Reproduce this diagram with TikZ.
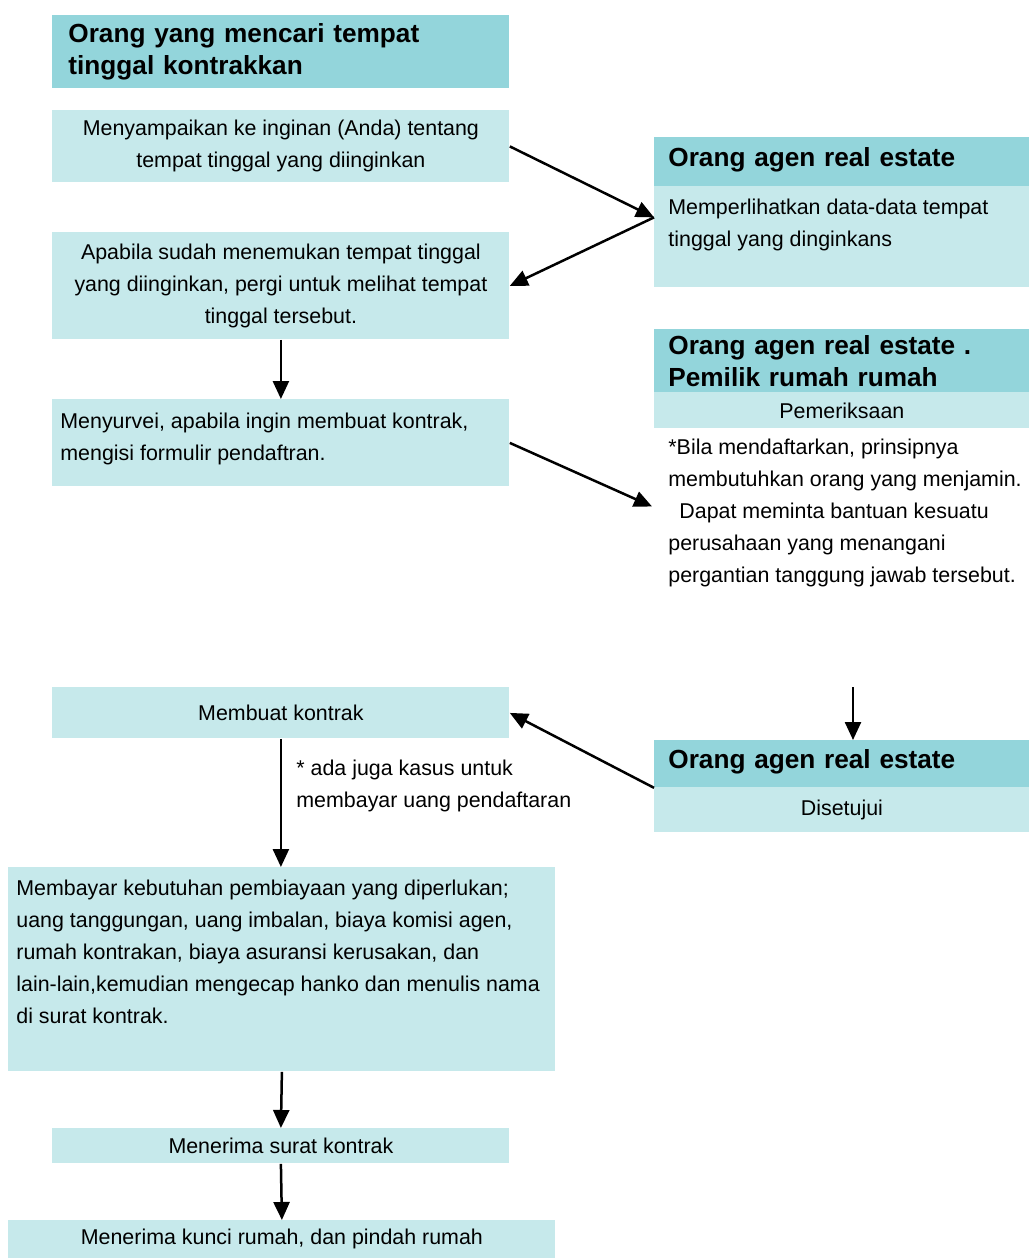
\documentclass[tikz,border=0pt]{standalone}
\usepackage{fontspec}
\setmainfont{Liberation Sans}
\usetikzlibrary{arrows.meta}

\definecolor{headc}{RGB}{147,213,219}
\definecolor{bodyc}{RGB}{198,233,235}
\newcommand{\bodyfont}{\fontsize{10.7pt}{16pt}\selectfont}
\newcommand{\headfont}{\fontsize{13.1pt}{16pt}\selectfont\bfseries}

\begin{document}
\begin{tikzpicture}[x=0.5pt,y=-0.5pt,
  box/.style={fill=bodyc,anchor=north west,inner sep=0pt,font=\bodyfont,align=center},
  head/.style={fill=headc,anchor=north west,inner xsep=7pt,inner ysep=0pt,font=\headfont,align=left},
  txt/.style={anchor=base west,inner sep=0pt,font=\bodyfont,align=left},
  arr/.style={-{Triangle[length=9pt,width=8pt]},line width=1.25pt}]
\useasboundingbox (0,0) rectangle (1029,1258);

% left column
\node[head,inner xsep=8pt,text width=212.5pt,minimum height=36.5pt] (seeker) at (52,15) {Orang yang mencari tempat\\tinggal kontrakkan};
\node[box,minimum width=228.5pt,minimum height=36pt] (wish) at (52,110) {Menyampaikan ke inginan (Anda) tentang\\tempat tinggal yang diinginkan};
\node[box,minimum width=228.5pt,minimum height=53.5pt] (visit) at (52,232) {Apabila sudah menemukan tempat tinggal\\yang diinginkan, pergi untuk melihat tempat\\tinggal tersebut.};
\node[box,minimum width=228.5pt,minimum height=43.5pt] (survey) at (52,399) {};
\node[txt] (surveytext) at (60,460) {Menyurvei, apabila ingin membuat kontrak,\\mengisi formulir pendaftran.};
\node[box,minimum width=228.5pt,minimum height=25.5pt] (contract) at (52,687) {Membuat kontrak};
\node[txt] (feenote) at (296,807) {* ada juga kasus untuk\\membayar uang pendaftaran};
\node[box,minimum width=273.5pt,minimum height=102pt] (pay) at (8,867) {};
\node[txt] (paytext) at (16,1023) {Membayar kebutuhan pembiayaan yang diperlukan;\\uang tanggungan, uang imbalan, biaya komisi agen,\\rumah kontrakan, biaya asuransi kerusakan, dan\\lain-lain,kemudian mengecap hanko dan menulis nama\\di surat kontrak.};
\node[box,minimum width=228.5pt,minimum height=17.5pt] (receive) at (52,1128) {Menerima surat kontrak};
\node[box,minimum width=273.5pt,minimum height=19pt] (keys) at (8,1220) {Menerima kunci rumah, dan pindah rumah};

% right column
\node[head,text width=173.5pt,minimum height=24.5pt,text depth=5pt] (agent) at (654,137) {Orang agen real estate};
\node[box,minimum width=187.5pt,minimum height=50.5pt] (agentbody) at (654,186) {};
\node[txt] (agenttext) at (668,246) {Memperlihatkan data-data tempat\\tinggal yang dinginkans};
\node[head,text width=173.5pt,minimum height=31.5pt] (owner) at (654,329) {Orang agen real estate .\\Pemilik rumah rumah};
\node[box,minimum width=187.5pt,minimum height=18pt] (check) at (654,392) {Pemeriksaan};
\node[txt] (note) at (668,582) {*Bila mendaftarkan, prinsipnya\\membutuhkan orang yang menjamin.\\\hspace*{5.5pt}Dapat meminta bantuan kesuatu\\perusahaan yang menangani\\pergantian tanggung jawab tersebut.};
\node[head,text width=173.5pt,minimum height=23.5pt,text depth=5pt] (agentok) at (654,740) {Orang agen real estate};
\node[box,minimum width=187.5pt,minimum height=22.5pt] (approve) at (654,787) {Disetujui};
\coordinate (down) at (853,687);

% arrows
\draw[arr] (wish.east) -- ([yshift=9.75pt]agentbody.west);
\draw[arr] ([yshift=9.75pt]agentbody.west) -- (visit.east);
\draw[arr] (visit.south) -- (survey.north);
\draw[arr] (survey.east) -- ([xshift=-8pt,yshift=3pt]note.west);
\draw[arr] (down) -- (down |- agentok.north);
\draw[arr] (agentok.south west) -- (contract.east);
\draw[arr] (contract.south) -- (contract.south |- pay.north);
\draw[arr] (pay.south) -- (receive.north);
\draw[arr] (receive.south) -- (keys.north);
\end{tikzpicture}
\end{document}
